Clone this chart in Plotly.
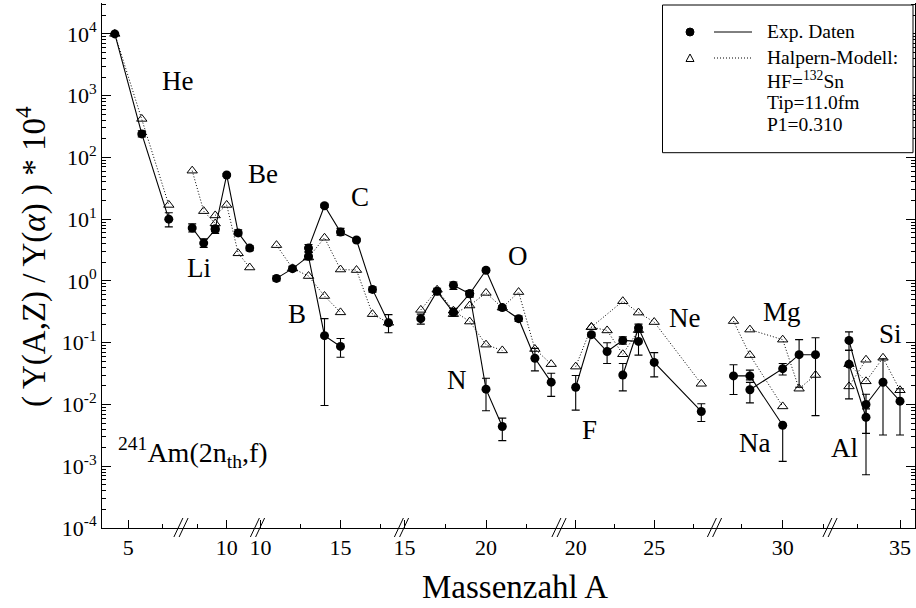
import plotly.graph_objects as go

# ---------------------------------------------------------------------------
# Light-charged-particle yields in 241Am(2n_th,f), normalised to alpha = 10^4
# For every element: mass numbers, measured yields (with error limits)
# and the Halpern-model prediction.
# ---------------------------------------------------------------------------
he_A = [4, 6, 8]
he_exp = [10000, 240, 10]
he_lo = [10000, 215, 7.5]
he_hi = [10000, 270, 12.7]
he_mod = [10000, 420, 17]

li_A = [7, 8, 9]
li_exp = [7.2, 4.1, 6.8]
li_lo = [6.2, 3.5, 5.9]
li_hi = [8.4, 4.8, 7.8]
li_mod = [61, 13.5, 8.5]

be_A = [9, 10, 11, 12]
be_exp = [7.0, 52, 6.0, 3.4]
be_lo = [6.3, 49, 5.4, 3.1]
be_hi = [7.8, 55, 6.7, 3.7]
be_mod = [11.5, 17, 2.8, 1.65]

b_A = [11, 12, 13, 14, 15]
b_exp = [1.1, 1.58, 2.5, 0.13, 0.087]
b_lo = [1.0, 1.45, 2.2, 0.0096, 0.058]
b_hi = [1.2, 1.72, 2.9, 0.245, 0.117]
b_mod = [3.8, 1.6, 1.2, 0.57, 0.31]

c_A = [13, 14, 15, 16, 17, 18]
c_exp = [3.4, 16.5, 6.2, 4.6, 0.73, 0.21]
c_lo = [3.0, 15.5, 5.5, 4.3, 0.66, 0.145]
c_hi = [3.9, 17.5, 7.1, 4.9, 0.80, 0.285]
c_mod = [2.4, 5.0, 1.53, 1.5, 0.29, 0.21]

n_A = [16, 17, 18, 19, 20, 21]
n_exp = [0.245, 0.68, 0.31, 0.62, 0.0177, 0.0044]
n_lo = [0.20, 0.60, 0.27, 0.55, 0.0079, 0.0026]
n_hi = [0.29, 0.76, 0.36, 0.70, 0.0266, 0.0060]
n_mod = [0.34, 0.72, 0.33, 0.22, 0.093, 0.075]

o_A = [18, 19, 20, 21, 22, 23, 24]
o_exp = [0.85, 0.62, 1.49, 0.37, 0.245, 0.056, 0.023]
o_lo = [0.73, 0.55, 1.40, 0.34, 0.22, 0.035, 0.0135]
o_hi = [0.96, 0.70, 1.60, 0.40, 0.27, 0.081, 0.032]
o_mod = [0.29, 0.40, 0.64, 0.37, 0.66, 0.079, 0.045]

f_A = [20, 21, 22, 23, 24]
f_exp = [0.019, 0.135, 0.072, 0.109, 0.105]
f_lo = [0.0081, 0.125, 0.046, 0.095, 0.063]
f_hi = [0.0295, 0.145, 0.100, 0.125, 0.150]
f_mod = [0.041, 0.179, 0.158, 0.065, 0.16]

ne_A = [23, 24, 25, 28]
ne_exp = [0.030, 0.173, 0.048, 0.0077]
ne_lo = [0.0166, 0.150, 0.028, 0.0053]
ne_hi = [0.046, 0.200, 0.069, 0.0103]
ne_mod_A = [21, 23, 24, 25, 28]
ne_mod = [0.179, 0.47, 0.307, 0.216, 0.0216]

na_A = [27, 28, 30]
na_exp = [0.029, 0.029, 0.0046]
na_lo = [0.0145, 0.025, 0.0012]
na_hi = [0.044, 0.036, 0.0046]
na_mod = [0.224, 0.063, 0.0093]

mg_A = [28, 30, 31, 32]
mg_exp = [0.0173, 0.038, 0.064, 0.064]
mg_lo = [0.0106, 0.030, 0.019, 0.0066]
mg_hi = [0.0228, 0.046, 0.112, 0.120]
mg_mod = [0.163, 0.112, 0.018, 0.030]

al_A = [32, 33]
al_exp = [0.045, 0.0062]
al_lo = [0.0123, 0.00073]
al_hi = [0.075, 0.0085]
al_mod = [0.0196, 0.053]

si_A = [32, 33, 34, 35]
si_exp = [0.109, 0.0100, 0.0229, 0.0113]
si_lo = [0.075, 0.0034, 0.0032, 0.0032]
si_hi = [0.150, 0.0146, 0.055, 0.018]
si_mod = [0.045, 0.0237, 0.057, 0.0170]

y_tick_vals = [1e-4, 1e-3, 1e-2, 1e-1, 1, 1e1, 1e2, 1e3, 1e4]
y_tick_text = ["10<sup>-4</sup>", "10<sup>-3</sup>", "10<sup>-2</sup>", "10<sup>-1</sup>",
               "10<sup>0</sup>", "10<sup>1</sup>", "10<sup>2</sup>", "10<sup>3</sup>",
               "10<sup>4</sup>"]

# ---------------------------------------------------------------------------
# Broken mass-number axis. The x axis runs in page pixels; every segment maps
# A -> pixel with (reference A, pixel of reference A, pixels per unit of A).
# ---------------------------------------------------------------------------
W, H = 916, 608
L, R, T, B = 102, 1, 3, 80
PW, PH = W - L - R, H - T - B

SEG = {
    "He": (5, 128.3, 13.5),
    "LiBe": (10, 226.7, 11.5),
    "BC": (15, 340.5, 16.0),
    "NO": (20, 486.0, 16.3),
    "FNe": (20, 575.7, 15.7),
    "NaMg": (30, 782.7, 16.4),
    "AlSi": (35, 900.0, 17.0),
}


def xmap(seg, A):
    a0, p0, s = SEG[seg]
    return [p0 + (a - a0) * s for a in A]


major_ticks = [("He", 5), ("LiBe", 10), ("BC", 10), ("BC", 15), ("NO", 15),
               ("NO", 20), ("FNe", 20), ("FNe", 25), ("NaMg", 30), ("AlSi", 35)]
minor_ticks = [("He", 7.5), ("LiBe", 7.5), ("BC", 12.5), ("BC", 17.5), ("NO", 17.5),
               ("NO", 22.5), ("FNe", 22.5), ("FNe", 27.5), ("NaMg", 27.5),
               ("NaMg", 32.5), ("AlSi", 32.5)]
breaks_px = [181, 257.5, 401.5, 559, 714.5, 830]


def px(xp):
    return (xp - L) / PW


def py(yp):
    return (H - B - yp) / PH


elements = [
    ("He", he_A, he_exp, he_lo, he_hi, he_A, he_mod),
    ("LiBe", li_A, li_exp, li_lo, li_hi, li_A, li_mod),
    ("LiBe", be_A, be_exp, be_lo, be_hi, be_A, be_mod),
    ("BC", b_A, b_exp, b_lo, b_hi, b_A, b_mod),
    ("BC", c_A, c_exp, c_lo, c_hi, c_A, c_mod),
    ("NO", n_A, n_exp, n_lo, n_hi, n_A, n_mod),
    ("NO", o_A, o_exp, o_lo, o_hi, o_A, o_mod),
    ("FNe", f_A, f_exp, f_lo, f_hi, f_A, f_mod),
    ("FNe", ne_A, ne_exp, ne_lo, ne_hi, ne_mod_A, ne_mod),
    ("NaMg", na_A, na_exp, na_lo, na_hi, na_A, na_mod),
    ("NaMg", mg_A, mg_exp, mg_lo, mg_hi, mg_A, mg_mod),
    ("AlSi", al_A, al_exp, al_lo, al_hi, al_A, al_mod),
    ("AlSi", si_A, si_exp, si_lo, si_hi, si_A, si_mod),
]

DOTS = "1px,2px"

fig = go.Figure()

# Halpern model: open triangles joined by dotted lines
for seg, A, exp, lo, hi, mA, mod in elements:
    fig.add_trace(go.Scatter(
        x=xmap(seg, mA), y=mod, mode="lines+markers",
        line=dict(color="black", width=1, dash=DOTS),
        marker=dict(symbol="triangle-up-open", size=9, color="black",
                    line=dict(width=1, color="black")),
        hoverinfo="skip"))

# measured yields: filled circles, solid lines, error bars
for seg, A, exp, lo, hi, mA, mod in elements:
    plus = [h - v for h, v in zip(hi, exp)]
    minus = [v - l for l, v in zip(lo, exp)]
    fig.add_trace(go.Scatter(
        x=xmap(seg, A), y=exp, mode="lines+markers",
        line=dict(color="black", width=1.1),
        marker=dict(symbol="circle", size=9, color="black"),
        error_y=dict(type="data", symmetric=False, array=plus, arrayminus=minus,
                     width=4, thickness=1.1, color="black"),
        hoverinfo="skip"))

shapes = []
# axis break marks "//"
for b in breaks_px:
    for off in (-2.6, 2.6):
        c = b + off
        shapes.append(dict(type="line", xref="paper", yref="paper",
                           x0=px(c - 4.5), y0=py(537), x1=px(c + 4.5), y1=py(518),
                           line=dict(color="black", width=1)))

# legend box with sample marks
shapes.append(dict(type="rect", xref="paper", yref="paper",
                   x0=px(662.5), y0=py(152.7), x1=px(913), y1=py(5),
                   line=dict(color="black", width=1), fillcolor="white"))
shapes.append(dict(type="circle", xref="paper", yref="paper",
                   x0=px(686), y0=py(36), x1=px(694), y1=py(28),
                   line=dict(color="black", width=1), fillcolor="black"))
shapes.append(dict(type="line", xref="paper", yref="paper",
                   x0=px(714), y0=py(32), x1=px(752), y1=py(32),
                   line=dict(color="black", width=1)))
tri = "M {} {} L {} {} L {} {} Z".format(px(686), py(61.5), px(694), py(61.5), px(690), py(54))
shapes.append(dict(type="path", xref="paper", yref="paper", path=tri,
                   line=dict(color="black", width=1), fillcolor="white"))
shapes.append(dict(type="line", xref="paper", yref="paper",
                   x0=px(714), y0=py(58), x1=px(752), y1=py(58),
                   line=dict(color="black", width=1, dash=DOTS)))

ann = []
serif = "Liberation Serif"


def label(text, x, y, size, xanchor="center", textangle=0):
    ann.append(dict(text=text, x=px(x), y=py(y), xref="paper", yref="paper",
                    showarrow=False, xanchor=xanchor, yanchor="middle",
                    textangle=textangle,
                    font=dict(family=serif, size=size, color="black")))


# element names
for name, x, y in [("He", 177, 81), ("Li", 199, 268), ("Be", 263, 174), ("C", 360, 197),
                   ("B", 297, 314), ("O", 518, 256), ("N", 457, 380), ("F", 589, 430),
                   ("Ne", 684, 318), ("Mg", 782, 312), ("Na", 754, 443), ("Si", 890, 334),
                   ("Al", 844, 448)]:
    label(name, x, y, 27)

label("<sup>241</sup>Am(2n<sub>th</sub>,f)", 116, 452, 28, xanchor="left")

# legend text
for text, y in [("Exp. Daten", 32), ("Halpern-Modell:", 57), ("HF=<sup>132</sup>Sn", 80),
                ("Tip=11.0fm", 102), ("P1=0.310", 124)]:
    label(text, 765, y, 19.5, xanchor="left")

# axis titles
label("Massenzahl A", 515, 587, 33)
label("( Y(A,Z) / Y(<i>α</i>) ) * 10<sup>4</sup>", 31, 257, 33, textangle=-90)

y_minor = [k * 10.0 ** e for e in range(-4, 5) for k in range(2, 10)]

fig.update_layout(
    width=W, height=H,
    margin=dict(l=L, r=R, t=T, b=B),
    paper_bgcolor="white", plot_bgcolor="white",
    showlegend=False,
    font=dict(family=serif, color="black"),
    shapes=shapes, annotations=ann,
    xaxis=dict(
        range=[L, W - R], showgrid=False, zeroline=False,
        showline=True, linecolor="black", linewidth=1,
        ticks="inside", ticklen=8, tickwidth=1, tickcolor="black",
        tickmode="array",
        tickvals=[xmap(s, [a])[0] for s, a in major_ticks],
        ticktext=[str(a) for s, a in major_ticks],
        tickfont=dict(family=serif, size=22, color="black"),
        minor=dict(tickmode="array",
                   tickvals=[xmap(s, [a])[0] for s, a in minor_ticks],
                   ticks="inside", ticklen=4, tickwidth=1, tickcolor="black"),
    ),
    yaxis=dict(
        type="log", range=[-4, 4.5], showgrid=False, zeroline=False,
        showline=True, linecolor="black", linewidth=1, mirror="ticks",
        ticks="inside", ticklen=9, tickwidth=1, tickcolor="black",
        tickmode="array", tickvals=y_tick_vals, ticktext=y_tick_text,
        tickfont=dict(family=serif, size=22, color="black"),
        minor=dict(tickmode="array", tickvals=y_minor,
                   ticks="inside", ticklen=4, tickwidth=1, tickcolor="black"),
    ),
)

fig.write_html("out.html")
